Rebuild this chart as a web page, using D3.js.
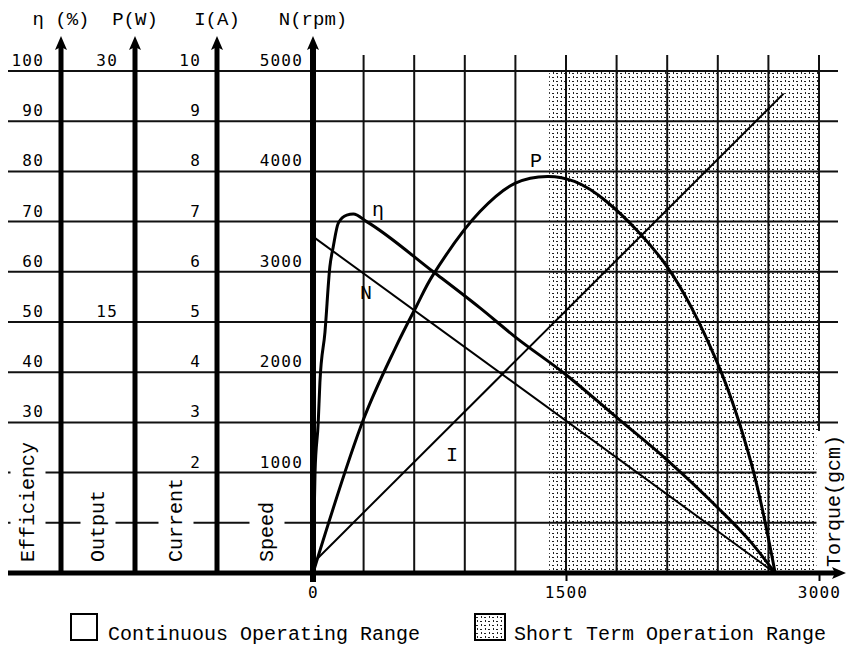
<!DOCTYPE html>
<html>
<head>
<meta charset="utf-8">
<script src="https://cdn.jsdelivr.net/npm/d3@7"></script>
<style>
  body { margin: 0; background: #fff; }
  svg { display: block; }
</style>
</head>
<body>
<div id="wrapper"></div>
<script>
// ---- data ----
const torqueTicks = [0, 1500, 3000];
const effTicks = [100, 90, 80, 70, 60, 50, 40, 30];
const powerTicks = [30, 15];
const currentTicks = [10, 9, 8, 7, 6, 5, 4, 3, 2];
const speedTicks = [5000, 4000, 3000, 2000, 1000];
const shortTermFrom = 1400;

// [torque gcm, value]
const speedLine = [[0, 3350], [2740, 0]];
const currentLine = [[0, 0.2], [2790, 9.55]];
const effCurve = [[0, 0], [12, 20], [31, 30], [41, 38], [71, 48], [100, 61], [120, 65], [150, 69.7],
  [200, 71.3], [239, 71.5], [318, 70], [713, 60], [990, 52.8], [1200, 47], [1500, 39.5],
  [1800, 31], [2100, 22.5], [2400, 13], [2600, 6], [2740, 0]];
const powerCurve = [[0, 0], [300, 9.2], [486, 13.4], [611, 15.9], [711, 17.8], [990, 21.6],
  [1200, 23.3], [1390, 23.7], [1550, 23.4], [1740, 22.2], [2100, 18.3], [2400, 12.5],
  [2600, 6.5], [2740, 0]];

const axisNames = ["η (%)", "P(W)", "I(A)", "N(rpm)"];
const sideNames = ["Efficiency", "Output", "Current", "Speed"];
const legendNames = ["Continuous Operating Range", "Short Term Operation Range"];

// ---- layout ----
const W = 846, H = 648;
const baseY = 573, topY = 71;
const monoFont = "'Liberation Mono', 'DejaVu Sans Mono', monospace";
const numFont = "'DejaVu Sans Mono', monospace";

const svg = d3.select("#wrapper").append("svg")
  .attr("width", W).attr("height", H);

const x = d3.scaleLinear().domain([0, 3000]).range([313, 819]);
const yPct = d3.scaleLinear().domain([0, 100]).range([baseY, topY]);
const yP = d3.scaleLinear().domain([0, 30]).range([baseY, topY]);
const yI = d3.scaleLinear().domain([0, 10]).range([baseY, topY]);
const yN = d3.scaleLinear().domain([0, 5000]).range([baseY, topY]);

const axisX = [61, 135, 217, x(0)];

// stipple pattern for short term range
const defs = svg.append("defs");
const pat = defs.append("pattern").attr("id", "dots")
  .attr("width", 8).attr("height", 8).attr("patternUnits", "userSpaceOnUse");
pat.append("rect").attr("x", 1).attr("y", 0).attr("width", 1).attr("height", 2).attr("fill", "#222");
pat.append("rect").attr("x", 4).attr("y", 1).attr("width", 2).attr("height", 1).attr("fill", "#222");
pat.append("rect").attr("x", 0).attr("y", 5).attr("width", 2).attr("height", 1).attr("fill", "#222");
pat.append("rect").attr("x", 5).attr("y", 4).attr("width", 1).attr("height", 2).attr("fill", "#222");

svg.append("rect")
  .attr("x", x(shortTermFrom)).attr("y", yPct(100))
  .attr("width", x(3000) - x(shortTermFrom)).attr("height", baseY - yPct(100))
  .attr("fill", "url(#dots)");

// grid
const grid = svg.append("g").attr("stroke", "#111").attr("stroke-width", 2);
grid.selectAll(".h").data(d3.range(10, 101, 10)).join("line")
  .attr("x1", 8).attr("x2", 838)
  .attr("y1", d => yPct(d)).attr("y2", d => yPct(d));
grid.selectAll(".v").data(d3.range(300, 3001, 300)).join("line")
  .attr("x1", d => x(d)).attr("x2", d => x(d))
  .attr("y1", 55).attr("y2", baseY);

// curves
const line = (ys) => d3.line().x(d => x(d[0])).y(d => ys(d[1]));
svg.append("path").attr("d", line(yN)(speedLine))
  .attr("fill", "none").attr("stroke", "#000").attr("stroke-width", 2);
svg.append("path").attr("d", line(yI)(currentLine))
  .attr("fill", "none").attr("stroke", "#000").attr("stroke-width", 2);
svg.append("path").attr("d", line(yPct).curve(d3.curveMonotoneX)(effCurve))
  .attr("fill", "none").attr("stroke", "#000").attr("stroke-width", 3);
svg.append("path").attr("d", line(yP).curve(d3.curveCatmullRom.alpha(0.5))(powerCurve))
  .attr("fill", "none").attr("stroke", "#000").attr("stroke-width", 3);

// curve names
const curveLabels = [["η", 378, 210], ["N", 366, 293], ["P", 536, 161], ["I", 452, 455]];
svg.selectAll(".cl").data(curveLabels).join("text")
  .attr("x", d => d[1]).attr("y", d => d[2])
  .attr("text-anchor", "middle").attr("dominant-baseline", "central")
  .attr("font-family", monoFont).attr("font-size", 20)
  .text(d => d[0]);

// side titles (rotated, white background)
function sideLabel(txt, cx, bottom) {
  const g = svg.append("g").attr("transform", `translate(${cx},${bottom}) rotate(-90)`);
  const bg = g.append("rect").attr("fill", "#fff");
  const t = g.append("text").attr("x", 0).attr("y", 0)
    .attr("dominant-baseline", "central")
    .attr("font-family", monoFont).attr("font-size", 20).text(txt);
  const b = t.node().getBBox();
  bg.attr("x", b.x - 4).attr("y", b.y - 6).attr("width", b.width + 8).attr("height", b.height + 12);
}
const sideX = [28, 98, 176, 267];
sideNames.forEach((s, i) => sideLabel(s, sideX[i], 562));
sideLabel("Torque(gcm)", 834, 567);

// tick labels on left axes
function leftTicks(scale, ticks, ax, pad) {
  const g = svg.append("g").attr("transform", `translate(${ax},0)`)
    .call(d3.axisLeft(scale).tickValues(ticks).tickFormat(d3.format("d"))
      .tickSize(0).tickPadding(pad));
  g.select(".domain").remove();
  g.attr("font-family", numFont).attr("font-size", 16);
  g.selectAll("text").attr("dy", "-0.35em").attr("fill", "#000").attr("letter-spacing", 1.2);
}
leftTicks(yPct, effTicks, axisX[0], 17);
leftTicks(yP, powerTicks, axisX[1], 17);
leftTicks(yI, currentTicks, axisX[2], 16);
leftTicks(yN, speedTicks, axisX[3], 10);

// thick vertical axes with arrows
axisX.forEach((ax, i) => {
  svg.append("line").attr("x1", ax).attr("x2", ax)
    .attr("y1", i === 3 ? 582 : baseY).attr("y2", 46)
    .attr("stroke", "#000").attr("stroke-width", i === 3 ? 6 : 5);
  svg.append("path")
    .attr("d", `M${ax},36 L${ax + 6},50 L${ax},47 L${ax - 6},50 Z`)
    .attr("fill", "#000");
  const t = svg.append("text").attr("x", ax).attr("y", 25)
    .attr("font-family", monoFont).attr("font-size", 19)
    .text(axisNames[i]);
  const b = t.node().getBBox();
  t.attr("x", ax - (b.x - ax) - b.width / 2);
});

// torque axis
const xAxis = svg.append("g").attr("transform", `translate(0,${baseY})`)
  .call(d3.axisBottom(x).tickValues(torqueTicks).tickFormat(d3.format("d"))
    .tickSize(8).tickPadding(6));
xAxis.select(".domain").remove();
xAxis.selectAll("line").attr("stroke", "#000").attr("stroke-width", 2);
xAxis.attr("font-family", numFont).attr("font-size", 16);
xAxis.selectAll("text").attr("fill", "#000").attr("letter-spacing", 1.2);

svg.append("line").attr("x1", 8).attr("x2", 836)
  .attr("y1", baseY).attr("y2", baseY)
  .attr("stroke", "#000").attr("stroke-width", 5);
svg.append("path")
  .attr("d", `M846,${baseY} L832,${baseY - 6} L835,${baseY} L832,${baseY + 6} Z`)
  .attr("fill", "#000");

// legend
const lg = svg.append("g");
lg.append("rect").attr("x", 71).attr("y", 614).attr("width", 26).attr("height", 26)
  .attr("fill", "#fff").attr("stroke", "#000").attr("stroke-width", 2);
lg.append("text").attr("x", 108).attr("y", 640)
  .attr("font-family", monoFont).attr("font-size", 20).text(legendNames[0]);
lg.append("rect").attr("x", 475).attr("y", 614).attr("width", 30).attr("height", 26)
  .attr("fill", "url(#dots)").attr("stroke", "#000").attr("stroke-width", 2);
lg.append("text").attr("x", 514).attr("y", 640)
  .attr("font-family", monoFont).attr("font-size", 20).text(legendNames[1]);
</script>
</body>
</html>
